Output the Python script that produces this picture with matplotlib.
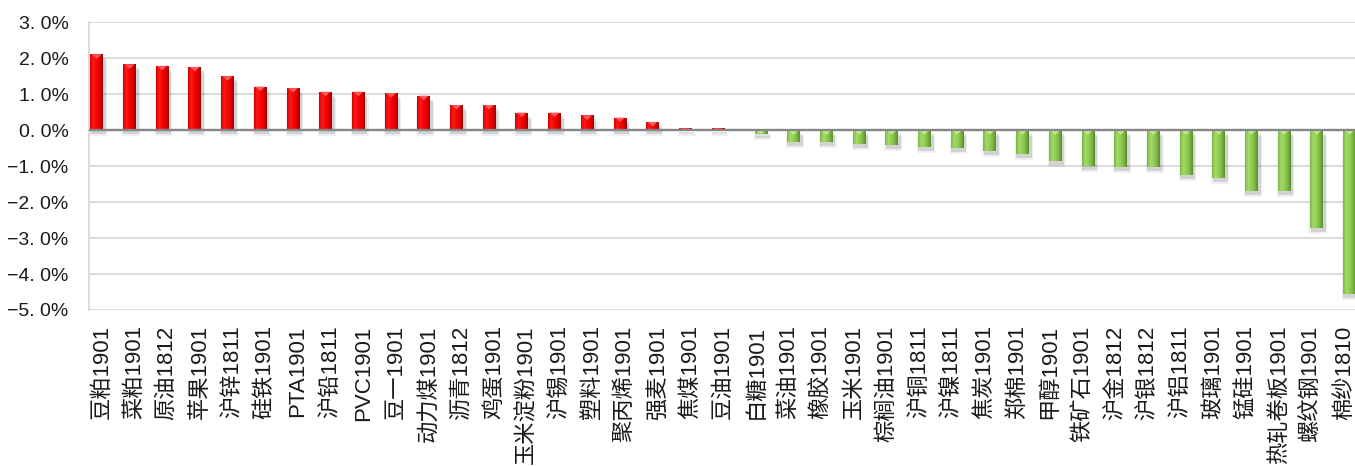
import numpy as np
import matplotlib
matplotlib.use("Agg")
import matplotlib.pyplot as plt
from matplotlib.colors import LinearSegmentedColormap

plt.rcParams['font.family'] = ['Liberation Sans', 'Noto Sans CJK SC', 'DejaVu Sans']
plt.rcParams['axes.unicode_minus'] = True

categories = ['豆粕1901', '菜粕1901', '原油1812', '苹果1901', '沪锌1811', '硅铁1901',
              'PTA1901', '沪铅1811', 'PVC1901', '豆一1901', '动力煤1901', '沥青1812',
              '鸡蛋1901', '玉米淀粉1901', '沪锡1901', '塑料1901', '聚丙烯1901', '强麦1901',
              '焦煤1901', '豆油1901', '白糖1901', '菜油1901', '橡胶1901', '玉米1901',
              '棕榈油1901', '沪铜1811', '沪镍1811', '焦炭1901', '郑棉1901', '甲醇1901',
              '铁矿石1901', '沪金1812', '沪银1812', '沪铝1811', '玻璃1901', '锰硅1901',
              '热轧卷板1901', '螺纹钢1901', '棉纱1810']
values = [2.11, 1.83, 1.79, 1.76, 1.50, 1.21, 1.17, 1.07, 1.07, 1.03, 0.96, 0.70,
          0.70, 0.49, 0.49, 0.41, 0.35, 0.23, 0.05, 0.05, -0.10, -0.32, -0.32, -0.39,
          -0.42, -0.46, -0.50, -0.58, -0.67, -0.87, -0.99, -1.01, -1.01, -1.25, -1.33,
          -1.68, -1.68, -2.73, -4.55]
yticks = [3, 2, 1, 0, -1, -2, -3, -4, -5]
ytick_labels = ['3. 0%', '2. 0%', '1. 0%', '0. 0%', '\u22121. 0%', '\u22122. 0%',
                '\u22123. 0%', '\u22124. 0%', '\u22125. 0%']

W, H = 1355, 466
fig = plt.figure(figsize=(W / 100, H / 100), dpi=100)
ax = fig.add_axes([88.7 / W, 1 - 310 / H, 1 - 88.7 / W, (310 - 22.3) / H])

x = np.arange(len(categories))
vals = np.array(values)
pos = vals >= 0
offset = 0.155
bw = 0.39

red_cmap = LinearSegmentedColormap.from_list('r', ['#D00000', '#FF1A1A', '#FF0000', '#E00000', '#9A0000'])
green_cmap = LinearSegmentedColormap.from_list('g', ['#7AB646', '#A3DA68', '#92CF55', '#7DB846', '#5A8C2C'])

px_y = 35.96  # pixels per 1%
px_x = 32.7   # pixels per category

xs = np.where(pos, x - offset, x + offset)

# soft shadows
ax.bar(xs + 1.5 / px_x, vals, width=bw + 2.5 / px_x, bottom=-4.0 / px_y,
       color='#000000', alpha=0.12, zorder=2, linewidth=0)
ax.bar(xs + 1.5 / px_x, vals, width=bw + 5 / px_x, bottom=-6.0 / px_y,
       color='#000000', alpha=0.06, zorder=2, linewidth=0)

bars = ax.bar(xs, vals, width=bw, color=np.where(pos, '#FF0000', '#92D050'),
              zorder=3, linewidth=0)

grad = np.linspace(0, 1, 64).reshape(1, -1)
for b, p in zip(bars, pos):
    x0, y0 = b.get_x(), b.get_y()
    w, h = b.get_width(), b.get_height()
    ylo, yhi = min(y0, y0 + h), max(y0, y0 + h)
    im = ax.imshow(grad, extent=[x0, x0 + w, ylo, yhi], aspect='auto',
                   cmap=red_cmap if p else green_cmap, zorder=3.5, interpolation='bilinear')
    im.set_clip_path(b)
    # bevel highlight at the top end of each bar
    th = min(4.5 / px_y, yhi - ylo)
    cx = x0 + w / 2
    tri = plt.Polygon([[x0 + w * 0.12, yhi], [x0 + w * 0.88, yhi], [cx, yhi - th]],
                      closed=True, color='#FF5A5A' if p else '#C4EB8E', zorder=4, linewidth=0)
    ax.add_patch(tri)

ax.set_xlim(-0.40, (W - 101.85) / px_x)
ax.set_ylim(-5, 3)
ax.set_yticks(yticks)
ax.set_yticklabels(ytick_labels, fontsize=14, color='#1a1a1a')
ax.set_xticks(x)
ax.set_xticklabels(categories, rotation=90, fontsize=16, color='#1a1a1a', va='top', ha='center')
ax.tick_params(axis='both', length=0)
ax.tick_params(axis='y', pad=14.5)
ax.tick_params(axis='x', pad=11)

ax.yaxis.grid(True, color='#D9D9D9', linewidth=1.3, zorder=0)
ax.set_axisbelow(True)
for s in ['top', 'right', 'bottom']:
    ax.spines[s].set_visible(False)
ax.spines['left'].set_color('#D9D9D9')
ax.spines['left'].set_linewidth(1.3)
ax.axhline(0, color='#868686', linewidth=1.7, zorder=5)

fig.savefig('out.png', dpi=100)
